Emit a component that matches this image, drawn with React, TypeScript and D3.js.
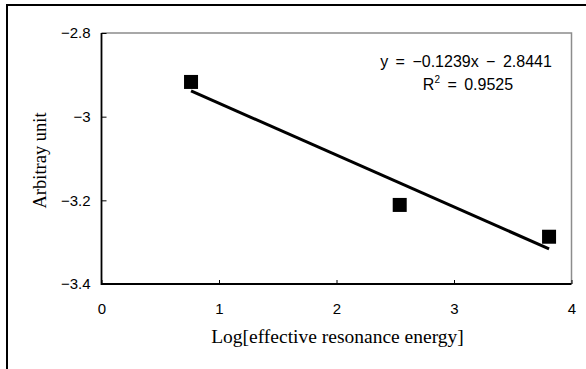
import React, { useRef, useEffect } from 'react';
import { select, scaleLinear, axisBottom, axisLeft, format, line } from 'd3';

const logEnergy = [0.762, 2.538, 3.809];
const arbitraryUnit = [-2.917, -3.211, -3.287];

// linear trend shown on the chart
const slope = -0.1239;
const intercept = -2.8441;
const equationLabel = 'y = \u22120.1239x \u2212 2.8441';
const rSquaredLabel = '0.9525';

const xTicks = [0, 1, 2, 3, 4];
const yTicks = [-2.8, -3, -3.2, -3.4];

const xTitle = 'Log[effective resonance energy]';
const yTitle = 'Arbitray unit';

const W = 586;
const H = 369;
const plot = { left: 101.5, right: 571.5, top: 33, bottom: 284 };

const App = () => {
  const svgRef = useRef(null);

  useEffect(() => {
    const svg = select(svgRef.current);
    svg.selectAll('*').remove();

    const xScale = scaleLinear().domain([0, 4]).range([plot.left, plot.right]);
    const yScale = scaleLinear().domain([-3.4, -2.8]).range([plot.bottom, plot.top]);

    // outer frame (cut at right and bottom in the original)
    svg
      .append('path')
      .attr('d', `M7,${H + 5}V5H${W + 5}`)
      .attr('fill', 'none')
      .attr('stroke', '#000')
      .attr('stroke-width', 2);

    // plot box: grey top/right, black left/bottom
    svg
      .append('path')
      .attr('d', `M${plot.left},${plot.top}H${plot.right}V${plot.bottom}`)
      .attr('fill', 'none')
      .attr('stroke', '#8c8c8c')
      .attr('stroke-width', 1.5);

    const fmt = format('~g');

    const xAxis = axisBottom(xScale)
      .tickValues(xTicks)
      .tickSize(-4)
      .tickPadding(19)
      .tickFormat(fmt);
    const gx = svg
      .append('g')
      .attr('transform', `translate(0, ${plot.bottom})`)
      .call(xAxis);

    const yAxis = axisLeft(yScale)
      .tickValues(yTicks)
      .tickSize(-5)
      .tickPadding(11)
      .tickFormat(fmt);
    const gy = svg
      .append('g')
      .attr('transform', `translate(${plot.left}, 0)`)
      .call(yAxis);

    [gx, gy].forEach(g => {
      g.select('.domain').remove();
      g.selectAll('line').attr('stroke', '#000').attr('stroke-width', 1);
      g.selectAll('text')
        .attr('font-family', '"Liberation Sans", Arial, sans-serif')
        .attr('font-size', 15)
        .attr('fill', '#000');
    });

    // black axis lines
    svg
      .append('path')
      .attr('d', `M${plot.left},${plot.top}V${plot.bottom}H${plot.right}`)
      .attr('fill', 'none')
      .attr('stroke', '#000')
      .attr('stroke-width', 1.8);

    // trend line across the data range
    const x0 = logEnergy[0];
    const x1 = logEnergy[logEnergy.length - 1];
    const trend = line()
      .x(d => xScale(d))
      .y(d => yScale(slope * d + intercept));
    svg
      .append('path')
      .attr('d', trend([x0, x1]))
      .attr('fill', 'none')
      .attr('stroke', '#000')
      .attr('stroke-width', 3);

    // square markers
    const size = 14;
    svg
      .selectAll('.pt')
      .data(logEnergy.map((x, i) => [x, arbitraryUnit[i]]))
      .join('rect')
      .attr('class', 'pt')
      .attr('x', d => xScale(d[0]) - size / 2)
      .attr('y', d => yScale(d[1]) - size / 2)
      .attr('width', size)
      .attr('height', size)
      .attr('fill', '#000');

    // equation
    const eq = svg
      .append('text')
      .attr('x', 466)
      .attr('y', 67)
      .attr('text-anchor', 'middle')
      .attr('font-family', '"Liberation Sans", Arial, sans-serif')
      .attr('font-size', 16)
      .attr('word-spacing', 3)
      .text(equationLabel);

    const r2 = svg
      .append('text')
      .attr('x', 468)
      .attr('y', 90)
      .attr('text-anchor', 'middle')
      .attr('font-family', '"Liberation Sans", Arial, sans-serif')
      .attr('font-size', 16)
      .attr('word-spacing', 3);
    r2.append('tspan').text('R');
    r2.append('tspan').attr('font-size', 10).attr('dy', -7).text('2');
    r2.append('tspan').attr('dy', 7).text(` = ${rSquaredLabel}`);

    // axis titles
    svg
      .append('text')
      .attr('x', (plot.left + plot.right) / 2 + 1)
      .attr('y', 343)
      .attr('text-anchor', 'middle')
      .attr('font-family', '"Liberation Serif", "Times New Roman", serif')
      .attr('font-size', 19.5)
      .text(xTitle);

    svg
      .append('text')
      .attr('transform', `translate(46, ${(plot.top + plot.bottom) / 2 + 2}) rotate(-90)`)
      .attr('text-anchor', 'middle')
      .attr('font-family', '"Liberation Serif", "Times New Roman", serif')
      .attr('font-size', 18.5)
      .text(yTitle);

    eq.attr('fill', '#000');
  }, []);

  return (
    <div style={{ position: 'absolute', left: 0, top: 0 }}>
      <svg ref={svgRef} width={W} height={H} style={{ display: 'block', background: '#fff' }} />
    </div>
  );
};

export default App;
